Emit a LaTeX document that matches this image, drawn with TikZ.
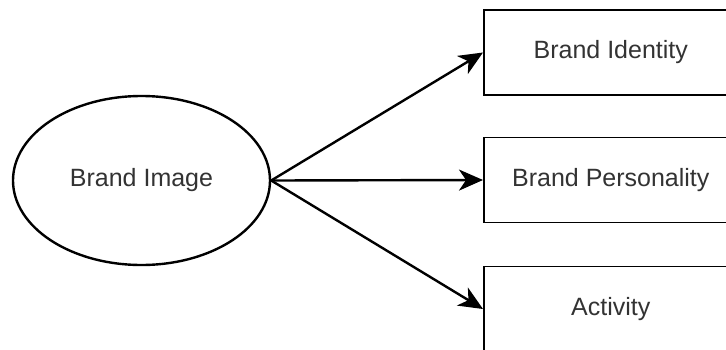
\documentclass[tikz,border=0pt]{standalone}
\usepackage{fontspec}
\setmainfont{Liberation Sans}
\usetikzlibrary{shapes.geometric,arrows.meta}
\definecolor{txt}{HTML}{333333}
\begin{document}
\begin{tikzpicture}[x=1pt,y=-1pt,
  every node/.style={text=txt,font=\fontsize{25}{30}\selectfont},
  concept/.style={ellipse,draw=black,line width=2.4pt,inner sep=0pt,
    minimum width=257pt,minimum height=169pt},
  facet/.style={rectangle,draw=black,line width=1.6pt,inner sep=0pt,
    minimum width=254pt,minimum height=85pt,anchor=west},
  arr/.style={draw=black,line width=2.4pt,
    -{Stealth[length=24pt,width=21pt,inset=7pt]}}]
\useasboundingbox (0,0) rectangle (726,349);
\fill[white] (0,0) rectangle (726,349);

\node[concept] (img) at (141.5,180.5) {Brand Image};

\node[facet] (ident) at (483,52.5) {Brand Identity};
\node[facet] (pers)  at (483,180) {Brand Personality};
\node[facet] (act)   at (483,309) {Activity};

\draw[arr] (img.east) -- (ident.west);
\draw[arr] (img.east) -- (pers.west);
\draw[arr] (img.east) -- (act.west);
\end{tikzpicture}
\end{document}
